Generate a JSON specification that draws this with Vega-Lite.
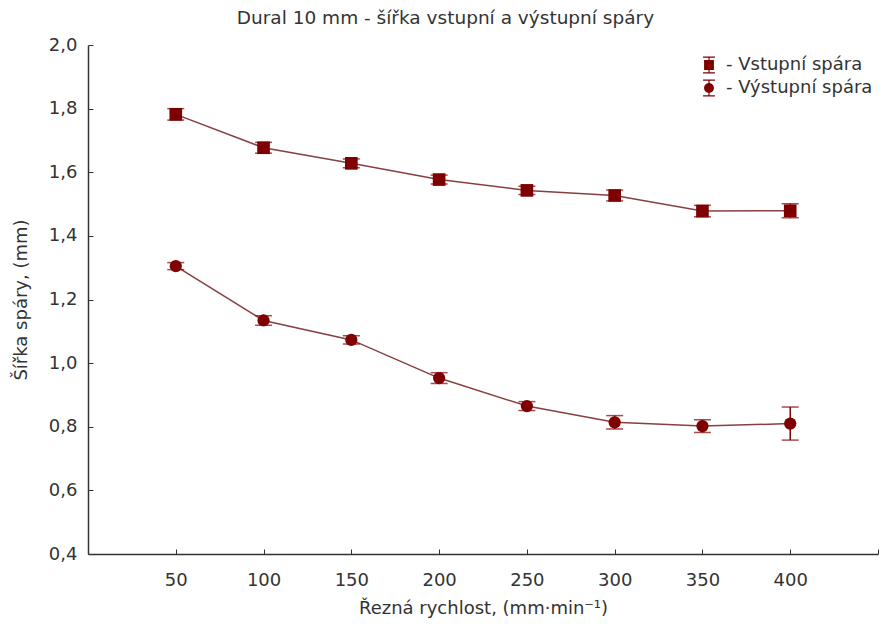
{
  "$schema": "https://vega.github.io/schema/vega-lite/v6.json",
  "width": 790,
  "height": 509,
  "autosize": "none",
  "padding": {"left": 88, "top": 45, "right": 7, "bottom": 76},
  "background": "white",
  "title": {
    "text": "Dural 10 mm - šířka vstupní a výstupní spáry",
    "frame": "bounds",
    "anchor": "middle",
    "font": "DejaVu Sans",
    "fontSize": 18.5,
    "fontWeight": "normal",
    "color": "#333333",
    "offset": 9
  },
  "config": {
    "view": {"stroke": null},
    "font": "DejaVu Sans",
    "axis": {
      "domainColor": "#333333",
      "domainWidth": 1.5,
      "tickColor": "#333333",
      "tickWidth": 1,
      "tickSize": -5,
      "grid": false,
      "labelFont": "DejaVu Sans",
      "labelFontSize": 18,
      "labelColor": "#333333",
      "titleFont": "DejaVu Sans",
      "titleFontSize": 18,
      "titleFontWeight": "normal",
      "titleColor": "#333333"
    },
    "legend": {
      "labelFont": "DejaVu Sans",
      "labelFontSize": 18,
      "labelColor": "#333333"
    }
  },
  "data": {
    "values": [
      {"speed": 50, "series": "Vstupní spára", "mean": 1.782, "err": 0.018},
      {"speed": 100, "series": "Vstupní spára", "mean": 1.677, "err": 0.017},
      {"speed": 150, "series": "Vstupní spára", "mean": 1.628, "err": 0.014},
      {"speed": 200, "series": "Vstupní spára", "mean": 1.577, "err": 0.014},
      {"speed": 250, "series": "Vstupní spára", "mean": 1.543, "err": 0.013},
      {"speed": 300, "series": "Vstupní spára", "mean": 1.527, "err": 0.017},
      {"speed": 350, "series": "Vstupní spára", "mean": 1.478, "err": 0.018},
      {"speed": 400, "series": "Vstupní spára", "mean": 1.479, "err": 0.022},
      {"speed": 50, "series": "Výstupní spára", "mean": 1.305, "err": 0.011},
      {"speed": 100, "series": "Výstupní spára", "mean": 1.134, "err": 0.015},
      {"speed": 150, "series": "Výstupní spára", "mean": 1.073, "err": 0.013},
      {"speed": 200, "series": "Výstupní spára", "mean": 0.953, "err": 0.017},
      {"speed": 250, "series": "Výstupní spára", "mean": 0.865, "err": 0.014},
      {"speed": 300, "series": "Výstupní spára", "mean": 0.814, "err": 0.021},
      {"speed": 350, "series": "Výstupní spára", "mean": 0.802, "err": 0.020},
      {"speed": 400, "series": "Výstupní spára", "mean": 0.810, "err": 0.052}
    ]
  },
  "encoding": {
    "x": {
      "field": "speed",
      "type": "quantitative",
      "scale": {"domain": [0, 450], "nice": false, "zero": false},
      "axis": {
        "title": "Řezná rychlost, (mm·min⁻¹)",
        "values": [50, 100, 150, 200, 250, 300, 350, 400, 450],
        "labelExpr": "datum.value == 450 ? '' : datum.label",
        "labelPadding": 22,
        "titlePadding": 10
      }
    },
    "y": {
      "field": "mean",
      "type": "quantitative",
      "scale": {"domain": [0.4, 2.0], "nice": false, "zero": false},
      "axis": {
        "title": "Šířka spáry, (mm)",
        "values": [0.4, 0.6, 0.8, 1.0, 1.2, 1.4, 1.6, 1.8, 2.0],
        "labelExpr": "replace(format(datum.value, '.1f'), '.', ',')",
        "labelPadding": 16,
        "titlePadding": 18
      }
    }
  },
  "layer": [
    {
      "mark": {"type": "line", "color": "#86403f", "strokeWidth": 1.5},
      "encoding": {"detail": {"field": "series"}}
    },
    {
      "mark": {
        "type": "errorbar",
        "color": "#7f0000",
        "ticks": {"size": 17, "thickness": 1.5},
        "rule": {"strokeWidth": 1.5}
      },
      "encoding": {
        "yError": {"field": "err"}
      }
    },
    {
      "transform": [{"filter": "datum.series == 'Vstupní spára'"}],
      "mark": {"type": "point", "shape": "square", "filled": true, "opacity": 1, "color": "#7f0000", "size": 160}
    },
    {
      "transform": [{"filter": "datum.series == 'Výstupní spára'"}],
      "mark": {"type": "point", "shape": "circle", "filled": true, "opacity": 1, "color": "#7f0000", "size": 150}
    },
    {
      "mark": {"type": "point", "filled": true, "opacity": 0, "color": "#7f0000", "size": 289},
      "encoding": {
        "shape": {
          "field": "series",
          "scale": {
            "domain": ["Vstupní spára", "Výstupní spára"],
            "range": [
              "M-0.58,-0.58H0.58V0.58H-0.58Z M-0.07,-1H0.07V1H-0.07Z M-0.7,-1H0.7V-0.86H-0.7Z M-0.7,0.86H0.7V1H-0.7Z",
              "M0.58,0A0.58,0.58 0 1,1 -0.58,0A0.58,0.58 0 1,1 0.58,0Z M-0.07,-1H0.07V1H-0.07Z M-0.7,-1H0.7V-0.86H-0.7Z M-0.7,0.86H0.7V1H-0.7Z"
            ]
          },
          "legend": {
            "title": null,
            "orient": "none",
            "legendX": 612,
            "legendY": 11,
            "symbolSize": 289,
            "symbolFillColor": "#7f0000",
            "symbolOpacity": 1,
            "symbolStrokeWidth": 0,
            "labelOffset": 8,
            "rowPadding": 5,
            "labelExpr": "'- ' + datum.label"
          }
        }
      }
    }
  ]
}
